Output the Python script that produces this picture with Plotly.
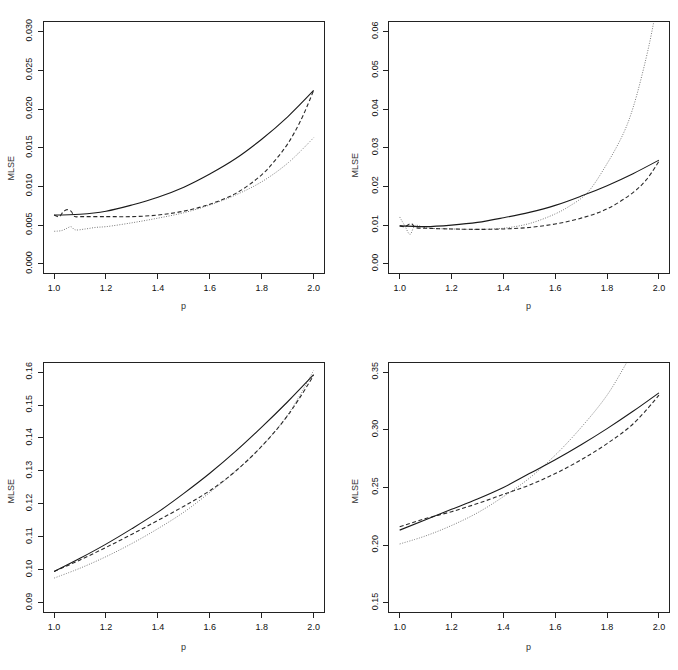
import plotly.graph_objects as go

# ---------------- data ----------------
p_grid = [1.0, 1.1, 1.2, 1.3, 1.4, 1.5, 1.6, 1.7, 1.8, 1.9, 2.0]

# Panel 1 (top-left)
solid1 = [0.0063, 0.0064, 0.0068, 0.0076, 0.0086, 0.0099, 0.0116, 0.0136, 0.0161, 0.0190, 0.0224]
dash1_p = [1.0, 1.02, 1.035, 1.05, 1.065, 1.08, 1.1, 1.2, 1.3, 1.4, 1.5, 1.6, 1.7, 1.8, 1.85, 1.9, 1.95, 2.0]
dash1 = [0.0063, 0.0061, 0.0067, 0.0070, 0.0068, 0.0061, 0.0061, 0.0061, 0.0061, 0.0063, 0.0068, 0.0077, 0.0091, 0.0115, 0.0133, 0.0155, 0.0185, 0.0224]
dot1_p = [1.0, 1.03, 1.05, 1.065, 1.08, 1.12, 1.16, 1.2, 1.3, 1.4, 1.5, 1.6, 1.7, 1.8, 1.9, 2.0]
dot1 = [0.0042, 0.0043, 0.0046, 0.0048, 0.0044, 0.0045, 0.0047, 0.0048, 0.0053, 0.0059, 0.0066, 0.0076, 0.0089, 0.0106, 0.0130, 0.0163]

# Panel 2 (top-right)
solid2 = [0.0098, 0.0096, 0.0100, 0.0107, 0.0119, 0.0133, 0.0151, 0.0175, 0.0202, 0.0233, 0.0268]
dash2_p = [1.0, 1.02, 1.045, 1.06, 1.1, 1.2, 1.3, 1.4, 1.5, 1.6, 1.7, 1.8, 1.9, 1.95, 2.0]
dash2 = [0.0098, 0.0096, 0.0104, 0.0094, 0.0092, 0.0090, 0.0089, 0.0090, 0.0094, 0.0103, 0.0118, 0.0142, 0.0184, 0.0216, 0.0265]
dot2_p = [1.0, 1.02, 1.04, 1.06, 1.1, 1.2, 1.3, 1.4, 1.5, 1.6, 1.65, 1.72, 1.8, 1.865, 1.9, 1.95, 1.98, 2.0]
dot2 = [0.0121, 0.0098, 0.0076, 0.0099, 0.0093, 0.0090, 0.0089, 0.0092, 0.0104, 0.0129, 0.0147, 0.0181, 0.0259, 0.0340, 0.0403, 0.0530, 0.0625, 0.0705]

# Panel 3 (bottom-left)
solid3 = [0.0995, 0.1035, 0.1078, 0.1125, 0.1175, 0.1232, 0.1293, 0.1360, 0.1433, 0.1510, 0.1592]
dash3 = [0.0995, 0.1030, 0.1068, 0.1108, 0.1150, 0.1193, 0.1240, 0.1300, 0.1375, 0.1468, 0.1590]
dot3 = [0.0975, 0.1005, 0.1040, 0.1080, 0.1125, 0.1175, 0.1235, 0.1300, 0.1375, 0.1470, 0.1605]

# Panel 4 (bottom-right)
solid4 = [0.213, 0.222, 0.231, 0.240, 0.250, 0.262, 0.274, 0.287, 0.301, 0.316, 0.332]
dash4 = [0.216, 0.223, 0.229, 0.236, 0.244, 0.252, 0.262, 0.274, 0.288, 0.305, 0.330]
dot4_p = [1.0, 1.1, 1.2, 1.3, 1.4, 1.5, 1.6, 1.7, 1.8, 1.875, 1.9]
dot4 = [0.201, 0.208, 0.217, 0.228, 0.242, 0.258, 0.278, 0.302, 0.330, 0.358, 0.368]

x_ticks = [1.0, 1.2, 1.4, 1.6, 1.8, 2.0]
x_ticktext = ["1.0", "1.2", "1.4", "1.6", "1.8", "2.0"]
y1_ticks = [0.000, 0.005, 0.010, 0.015, 0.020, 0.025, 0.030]
y1_ticktext = ["0.000", "0.005", "0.010", "0.015", "0.020", "0.025", "0.030"]
y2_ticks = [0.00, 0.01, 0.02, 0.03, 0.04, 0.05, 0.06]
y2_ticktext = ["0.00", "0.01", "0.02", "0.03", "0.04", "0.05", "0.06"]
y3_ticks = [0.09, 0.10, 0.11, 0.12, 0.13, 0.14, 0.15, 0.16]
y3_ticktext = ["0.09", "0.10", "0.11", "0.12", "0.13", "0.14", "0.15", "0.16"]
y4_ticks = [0.15, 0.20, 0.25, 0.30, 0.35]
y4_ticktext = ["0.15", "0.20", "0.25", "0.30", "0.35"]

x_label = "p"
y_label = "MLSE"

# ---------------- figure ----------------
W, H = 678, 670
fig = go.Figure()

solid_style = dict(color="#1a1a1a", width=1.1, dash="solid")
dash_style = dict(color="#2a2a2a", width=1.1, dash="4px,2.5px")
dot_style = dict(color="#7a7a7a", width=1.0, dash="1px,1.5px")

panels = [
    (p_grid, solid1, dash1_p, dash1, dot1_p, dot1),
    (p_grid, solid2, dash2_p, dash2, dot2_p, dot2),
    (p_grid, solid3, p_grid, dash3, p_grid, dot3),
    (p_grid, solid4, p_grid, dash4, dot4_p, dot4),
]

for i, (sx, sy, dx, dy, ox, oy) in enumerate(panels):
    xa = "x" if i == 0 else f"x{i+1}"
    ya = "y" if i == 0 else f"y{i+1}"
    for xs, ys, st in ((ox, oy, dot_style), (dx, dy, dash_style), (sx, sy, solid_style)):
        fig.add_trace(go.Scatter(x=xs, y=ys, mode="lines", line=dict(shape="spline", smoothing=1.0, **st),
                                 xaxis=xa, yaxis=ya, showlegend=False, hoverinfo="skip"))

# panel boxes in pixels: (left, right, top, bottom)
boxes = [
    (43.7, 324.0, 19.5, 271.7),
    (389.3, 669.3, 19.5, 271.7),
    (43.7, 324.0, 362.0, 612.7),
    (389.3, 669.3, 362.0, 612.7),
]
y_ranges = [[-0.0012, 0.0312], [-0.0024, 0.0624], [0.0872, 0.1628], [0.142, 0.358]]
y_tick_sets = [(y1_ticks, y1_ticktext), (y2_ticks, y2_ticktext), (y3_ticks, y3_ticktext), (y4_ticks, y4_ticktext)]

tickfont = dict(family="Liberation Sans, Arial, sans-serif", size=9, color="#111")
common = dict(showline=True, mirror=True, linecolor="#222", linewidth=1, ticks="outside",
              ticklen=5, tickwidth=1, tickcolor="#222", showgrid=False, zeroline=False,
              tickfont=tickfont)

layout = {}
for i, (l, r, t, b) in enumerate(boxes):
    xk = "xaxis" if i == 0 else f"xaxis{i+1}"
    yk = "yaxis" if i == 0 else f"yaxis{i+1}"
    xa = "x" if i == 0 else f"x{i+1}"
    ya = "y" if i == 0 else f"y{i+1}"
    layout[xk] = dict(domain=[l / W, r / W], range=[0.96, 2.04], anchor=ya,
                      tickvals=x_ticks, ticktext=x_ticktext, ticklabelstandoff=1, **common)
    layout[yk] = dict(domain=[1 - b / H, 1 - t / H], range=y_ranges[i], anchor=xa,
                      tickvals=y_tick_sets[i][0], ticktext=y_tick_sets[i][1], tickangle=-90,
                      ticklabelstandoff=2, **common)

annotations = []
label_font = dict(family="Liberation Sans, Arial, sans-serif", size=9, color="#333")
# x labels (p)
for (cx, cy) in [(183.5, 305), (528.5, 305), (183.5, 648), (528.5, 648)]:
    annotations.append(dict(text=x_label, x=cx / W, y=1 - cy / H, xref="paper", yref="paper",
                            showarrow=False, font=label_font, xanchor="center", yanchor="middle"))
# y labels (MLSE)
for (cx, cy) in [(11.5, 166), (355.5, 163), (11.5, 491), (355.5, 491)]:
    annotations.append(dict(text=y_label, x=cx / W, y=1 - cy / H, xref="paper", yref="paper",
                            showarrow=False, font=label_font, textangle=-90,
                            xanchor="center", yanchor="middle"))

fig.update_layout(width=W, height=H, margin=dict(l=0, r=0, t=0, b=0),
                  paper_bgcolor="white", plot_bgcolor="white",
                  annotations=annotations, **layout)

fig.write_html("out.html", config={"displayModeBar": False})
